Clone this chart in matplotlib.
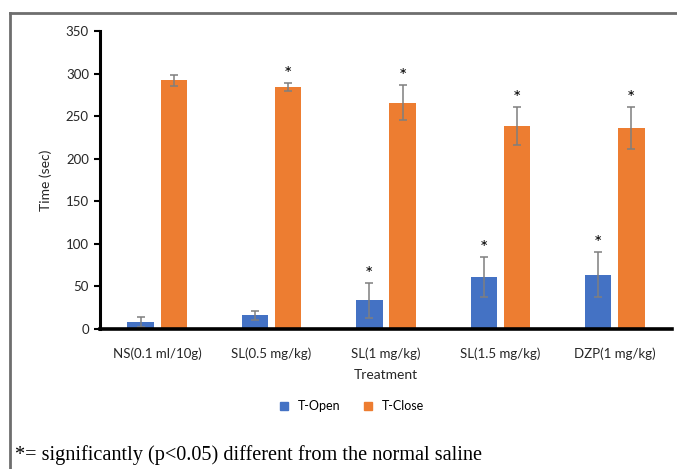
# Tiempo en brazos abiertos / cerrados por tratamiento
import numpy as np
import matplotlib.pyplot as plt
from matplotlib.lines import Line2D

plt.rcParams['font.family'] = ['Lato', 'DejaVu Sans']

# Datos
tratamientos = ['NS(0.1 ml/10g)', 'SL(0.5 mg/kg)', 'SL(1 mg/kg)', 'SL(1.5 mg/kg)', 'DZP(1 mg/kg)']
t_open = [8, 16, 33.5, 61, 64]
t_open_err = [6, 5, 20.5, 23, 26]
t_close = [292, 284, 266, 238.5, 236]
t_close_err = [6.5, 4.5, 20.5, 22.5, 25]
sig_open = [False, False, True, True, True]
sig_close = [False, True, True, True, True]

azul = '#4472C4'
naranja = '#ED7D31'

fig = plt.figure(figsize=(6.77, 4.69), dpi=100)
ax = fig.add_axes([100/677, 1 - 329/469, 572/677, 298/469])

x = np.arange(len(tratamientos))
w = 0.23
d = 0.145
err_kw = dict(ecolor='#7f7f7f', elinewidth=1.1, capsize=2.6, capthick=1.1)

ax.bar(x - d, t_open, w, color=azul, yerr=t_open_err, error_kw=err_kw, label='T-Open')
ax.bar(x + d, t_close, w, color=naranja, yerr=t_close_err, error_kw=err_kw, label='T-Close')

# Asteriscos de significancia
for i in range(len(x)):
    if sig_open[i]:
        ax.annotate('*', (x[i] - d, t_open[i] + t_open_err[i]), xytext=(0, 0),
                    textcoords='offset points', ha='center', va='bottom', fontsize=14)
    if sig_close[i]:
        ax.annotate('*', (x[i] + d, t_close[i] + t_close_err[i]), xytext=(0, 0),
                    textcoords='offset points', ha='center', va='bottom', fontsize=14)

ax.set_xlim(-0.5, len(x) - 0.5)
ax.set_ylim(0, 350)
ax.set_yticks(range(0, 351, 50))
ax.set_xticks(x)
ax.set_xticklabels(tratamientos, fontsize=9.5, color='#262626')
ax.tick_params(axis='x', length=0, pad=13)
ax.tick_params(axis='y', length=4, width=1.5, labelsize=9.5, labelcolor='#262626', pad=4)

for s in ['top', 'right']:
    ax.spines[s].set_visible(False)
ax.spines['left'].set_linewidth(2.2)
ax.spines['bottom'].set_linewidth(2.6)

ax.set_xlabel('Treatment', fontsize=10, color='#262626', labelpad=7)
ax.set_ylabel('Time (sec)', fontsize=10, color='#262626', labelpad=10)

# Leyenda
handles = [Line2D([], [], marker='s', ls='', color=azul, markersize=6),
           Line2D([], [], marker='s', ls='', color=naranja, markersize=6)]
fig.legend(handles, ['T-Open', 'T-Close'], loc='center', bbox_to_anchor=(348/677, 1 - 406/469),
           ncol=2, frameon=False, fontsize=9, handletextpad=0.1, columnspacing=1.2)

# Marco exterior
fig.add_artist(Line2D([10/677, 10/677], [0, 1 - 13/469], color='#6e6e6e', lw=2))
fig.add_artist(Line2D([10/677, 1], [1 - 13/469, 1 - 13/469], color='#6e6e6e', lw=2))

fig.text(15/677, 1 - 455/469, '*= significantly (p<0.05) different from the normal saline',
         family='Liberation Serif', fontsize=14.6, va='center', ha='left')

fig.savefig('out.png', dpi=100)
